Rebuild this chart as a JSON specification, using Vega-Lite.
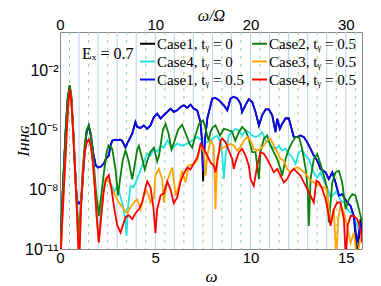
{
"$schema": "https://vega.github.io/schema/vega-lite/v6.json",
"width": 302, "height": 217,
"autosize": "none",
"padding": {"left": 60, "top": 32, "right": 19, "bottom": 37},
"config": {"view": {"stroke": "#8a8a8a", "strokeWidth": 1}, "font": "Liberation Sans"},
"datasets": {
"even": [{"h":2},{"h":4},{"h":6},{"h":8},{"h":10},{"h":12},{"h":14},{"h":16},{"h":18},{"h":20},{"h":22},{"h":24},{"h":26},{"h":28},{"h":30}],
"odd": [{"h":1},{"h":3},{"h":5},{"h":7},{"h":9},{"h":11},{"h":13},{"h":15},{"h":17},{"h":19},{"h":21},{"h":23},{"h":25},{"h":27},{"h":29},{"h":31}],
"curves": [
{"s":"k","w":0.0,"I":3.16e-12},{"s":"k","w":0.1,"I":1e-9},{"s":"k","w":0.2,"I":1e-7},{"s":"k","w":0.3,"I":1e-5},{"s":"k","w":0.4,"I":3.16e-4},{"s":"k","w":0.51,"I":1.58e-3},{"s":"k","w":0.6,"I":3.16e-4},{"s":"k","w":0.7,"I":6.31e-6},{"s":"k","w":0.8,"I":6.31e-8},{"s":"k","w":0.88,"I":3.16e-9},{"s":"k","w":0.95,"I":2e-9},{"s":"k","w":1.05,"I":2e-9},{"s":"k","w":1.12,"I":3.16e-9},{"s":"k","w":1.2,"I":3.98e-8},{"s":"k","w":1.3,"I":1e-6},{"s":"k","w":1.4,"I":7.94e-6},{"s":"k","w":1.51,"I":1.58e-5},{"s":"k","w":1.62,"I":5.01e-6},{"s":"k","w":1.75,"I":6.31e-7},{"s":"k","w":1.88,"I":1.58e-7},{"s":"k","w":2.0,"I":1.26e-7},{"s":"k","w":2.15,"I":1.41e-7},{"s":"k","w":2.3,"I":2e-7},{"s":"k","w":2.42,"I":3.55e-7},{"s":"k","w":2.56,"I":5.01e-7},{"s":"k","w":2.65,"I":1.58e-6},{"s":"k","w":2.74,"I":2.82e-6},{"s":"k","w":2.9,"I":3.16e-6},{"s":"k","w":3.0,"I":3e-6},{"s":"k","w":3.15,"I":3.16e-6},{"s":"k","w":3.26,"I":2.82e-6},{"s":"k","w":3.44,"I":1.26e-6},{"s":"k","w":3.52,"I":2e-6},{"s":"k","w":3.61,"I":2.88e-6},{"s":"k","w":3.79,"I":6.31e-6},{"s":"k","w":3.96,"I":2.45e-5},{"s":"k","w":4.05,"I":1.38e-5},{"s":"k","w":4.23,"I":1.23e-5},{"s":"k","w":4.4,"I":1.66e-5},{"s":"k","w":4.58,"I":1.12e-5},{"s":"k","w":4.75,"I":1.66e-5},{"s":"k","w":4.93,"I":4.37e-5},{"s":"k","w":5.1,"I":6.46e-5},{"s":"k","w":5.28,"I":3.63e-5},{"s":"k","w":5.45,"I":5.37e-5},{"s":"k","w":5.63,"I":7.94e-5},{"s":"k","w":5.8,"I":1.15e-4},{"s":"k","w":5.97,"I":7.94e-5},{"s":"k","w":6.15,"I":9.55e-5},{"s":"k","w":6.33,"I":1.41e-4},{"s":"k","w":6.5,"I":1.7e-4},{"s":"k","w":6.68,"I":1.26e-4},{"s":"k","w":6.85,"I":1.86e-4},{"s":"k","w":7.02,"I":1.15e-4},{"s":"k","w":7.2,"I":9.55e-5},{"s":"k","w":7.37,"I":2.45e-5},{"s":"k","w":7.45,"I":3.16e-6},{"s":"k","w":7.51,"I":2.51e-8},{"s":"k","w":7.6,"I":2.51e-6},{"s":"k","w":7.73,"I":3.63e-5},{"s":"k","w":7.99,"I":3.72e-4},{"s":"k","w":8.16,"I":3.98e-4},{"s":"k","w":8.34,"I":3.09e-4},{"s":"k","w":8.6,"I":1.7e-4},{"s":"k","w":8.78,"I":9.55e-5},{"s":"k","w":8.95,"I":3.72e-4},{"s":"k","w":9.12,"I":4.57e-4},{"s":"k","w":9.3,"I":3.8e-4},{"s":"k","w":9.47,"I":2.09e-4},{"s":"k","w":9.56,"I":7.94e-5},{"s":"k","w":9.74,"I":1.78e-4},{"s":"k","w":9.91,"I":3.47e-4},{"s":"k","w":10.09,"I":2.51e-4},{"s":"k","w":10.26,"I":7.94e-5},{"s":"k","w":10.44,"I":1.66e-5},{"s":"k","w":10.61,"I":5.37e-5},{"s":"k","w":10.79,"I":1.07e-4},{"s":"k","w":10.96,"I":1.07e-4},{"s":"k","w":11.14,"I":5.37e-5},{"s":"k","w":11.31,"I":7.59e-6},{"s":"k","w":11.4,"I":3.55e-5},{"s":"k","w":11.54,"I":1.12e-5},{"s":"k","w":11.66,"I":2e-5},{"s":"k","w":11.84,"I":3.8e-5},{"s":"k","w":12.01,"I":3.8e-5},{"s":"k","w":12.13,"I":1.38e-5},{"s":"k","w":12.27,"I":4.27e-6},{"s":"k","w":12.45,"I":4.27e-6},{"s":"k","w":12.62,"I":5.13e-6},{"s":"k","w":12.8,"I":4.27e-6},{"s":"k","w":12.97,"I":2.4e-6},{"s":"k","w":13.15,"I":1.1e-6},{"s":"k","w":13.32,"I":5.01e-7},{"s":"k","w":13.5,"I":2.82e-7},{"s":"k","w":13.67,"I":1.07e-7},{"s":"k","w":13.94,"I":7.24e-8},{"s":"k","w":14.11,"I":3.31e-8},{"s":"k","w":14.29,"I":7.24e-8},{"s":"k","w":14.46,"I":2.24e-8},{"s":"k","w":14.64,"I":4.79e-9},{"s":"k","w":14.81,"I":5.75e-9},{"s":"k","w":15.07,"I":2.19e-9},{"s":"k","w":15.25,"I":1.48e-9},{"s":"k","w":15.42,"I":4.57e-10},{"s":"k","w":15.6,"I":3.16e-12},{"s":"k","w":15.77,"I":3.16e-10},{"s":"k","w":15.86,"I":4.47e-11},

{"s":"c","w":0.0,"I":3.16e-12},{"s":"c","w":0.1,"I":1e-9},{"s":"c","w":0.2,"I":1e-7},{"s":"c","w":0.3,"I":7.94e-6},{"s":"c","w":0.4,"I":2.51e-4},{"s":"c","w":0.52,"I":1e-3},{"s":"c","w":0.6,"I":2.51e-4},{"s":"c","w":0.7,"I":5.01e-6},{"s":"c","w":0.8,"I":5.01e-8},{"s":"c","w":0.9,"I":5.01e-10},{"s":"c","w":0.98,"I":6.31e-12},{"s":"c","w":1.08,"I":5.01e-10},{"s":"c","w":1.2,"I":6.31e-8},{"s":"c","w":1.3,"I":7.94e-7},{"s":"c","w":1.4,"I":2.51e-6},{"s":"c","w":1.51,"I":3.16e-6},{"s":"c","w":1.62,"I":1.58e-6},{"s":"c","w":1.72,"I":2.51e-7},{"s":"c","w":1.82,"I":1.58e-8},{"s":"c","w":1.92,"I":5.01e-10},{"s":"c","w":2.02,"I":2.51e-11},{"s":"c","w":2.12,"I":5.01e-10},{"s":"c","w":2.25,"I":1e-8},{"s":"c","w":2.4,"I":2.51e-8},{"s":"c","w":2.55,"I":3.16e-8},{"s":"c","w":2.7,"I":1.58e-8},{"s":"c","w":2.85,"I":7.94e-9},{"s":"c","w":3.0,"I":1.51e-8},{"s":"c","w":3.15,"I":5.01e-9},{"s":"c","w":3.3,"I":1.58e-9},{"s":"c","w":3.42,"I":3.16e-10},{"s":"c","w":3.49,"I":4.47e-11},{"s":"c","w":3.56,"I":1e-9},{"s":"c","w":3.7,"I":1.51e-8},{"s":"c","w":3.85,"I":1.26e-8},{"s":"c","w":4.05,"I":3.31e-8},{"s":"c","w":4.31,"I":1.58e-7},{"s":"c","w":4.58,"I":6.31e-7},{"s":"c","w":4.75,"I":5.01e-7},{"s":"c","w":4.93,"I":1.1e-6},{"s":"c","w":5.1,"I":7.94e-7},{"s":"c","w":5.28,"I":1.58e-6},{"s":"c","w":5.45,"I":1.26e-6},{"s":"c","w":5.63,"I":2.88e-6},{"s":"c","w":5.75,"I":2e-6},{"s":"c","w":5.89,"I":1.1e-6},{"s":"c","w":6.15,"I":2e-6},{"s":"c","w":6.41,"I":1.58e-6},{"s":"c","w":6.68,"I":2e-6},{"s":"c","w":6.94,"I":2.88e-6},{"s":"c","w":7.2,"I":4.27e-6},{"s":"c","w":7.46,"I":2.88e-6},{"s":"c","w":7.72,"I":2.4e-6},{"s":"c","w":7.9,"I":2.82e-6},{"s":"c","w":8.07,"I":3.98e-6},{"s":"c","w":8.25,"I":5.01e-6},{"s":"c","w":8.43,"I":2.4e-6},{"s":"c","w":8.52,"I":5.01e-7},{"s":"c","w":8.6,"I":3.31e-8},{"s":"c","w":8.69,"I":5.01e-7},{"s":"c","w":8.86,"I":5.13e-6},{"s":"c","w":9.03,"I":7.59e-6},{"s":"c","w":9.21,"I":1.12e-5},{"s":"c","w":9.38,"I":9.33e-6},{"s":"c","w":9.56,"I":5.13e-6},{"s":"c","w":9.74,"I":9.33e-6},{"s":"c","w":9.91,"I":7.59e-6},{"s":"c","w":10.09,"I":5.13e-6},{"s":"c","w":10.26,"I":4.27e-6},{"s":"c","w":10.44,"I":5.13e-6},{"s":"c","w":10.61,"I":7.59e-6},{"s":"c","w":10.79,"I":2.88e-6},{"s":"c","w":10.96,"I":2.4e-6},{"s":"c","w":11.14,"I":1.32e-6},{"s":"c","w":11.31,"I":1.1e-6},{"s":"c","w":11.49,"I":1.58e-6},{"s":"c","w":11.66,"I":8.91e-7},{"s":"c","w":11.84,"I":1.1e-6},{"s":"c","w":12.01,"I":6.03e-7},{"s":"c","w":12.19,"I":4.17e-7},{"s":"c","w":12.36,"I":1.91e-7},{"s":"c","w":12.54,"I":7.41e-7},{"s":"c","w":12.71,"I":8.91e-7},{"s":"c","w":12.89,"I":5.01e-7},{"s":"c","w":13.06,"I":3.39e-7},{"s":"c","w":13.24,"I":1.07e-7},{"s":"c","w":13.41,"I":4.9e-8},{"s":"c","w":13.5,"I":3.98e-8},{"s":"c","w":13.67,"I":7.24e-8},{"s":"c","w":13.85,"I":2.75e-8},{"s":"c","w":14.02,"I":1.26e-8},{"s":"c","w":14.2,"I":3.98e-9},{"s":"c","w":14.37,"I":5.75e-9},{"s":"c","w":14.55,"I":8.51e-9},{"s":"c","w":14.72,"I":2.69e-9},{"s":"c","w":14.9,"I":2.19e-9},{"s":"c","w":15.07,"I":1e-9},{"s":"c","w":15.25,"I":6.76e-10},{"s":"c","w":15.42,"I":4.57e-10},{"s":"c","w":15.6,"I":1.45e-10},{"s":"c","w":15.77,"I":6.61e-11},

{"s":"b","w":0.0,"I":3.16e-12},{"s":"b","w":0.1,"I":1e-9},{"s":"b","w":0.2,"I":1e-7},{"s":"b","w":0.3,"I":1e-5},{"s":"b","w":0.4,"I":3.16e-4},{"s":"b","w":0.51,"I":1.58e-3},{"s":"b","w":0.6,"I":3.16e-4},{"s":"b","w":0.7,"I":6.31e-6},{"s":"b","w":0.8,"I":6.31e-8},{"s":"b","w":0.88,"I":3.16e-9},{"s":"b","w":0.95,"I":2e-9},{"s":"b","w":1.05,"I":2e-9},{"s":"b","w":1.12,"I":3.16e-9},{"s":"b","w":1.2,"I":3.98e-8},{"s":"b","w":1.3,"I":1e-6},{"s":"b","w":1.4,"I":7.94e-6},{"s":"b","w":1.51,"I":1.58e-5},{"s":"b","w":1.62,"I":5.01e-6},{"s":"b","w":1.75,"I":6.31e-7},{"s":"b","w":1.88,"I":1.58e-7},{"s":"b","w":2.0,"I":1.26e-7},{"s":"b","w":2.15,"I":1.41e-7},{"s":"b","w":2.3,"I":2e-7},{"s":"b","w":2.42,"I":3.55e-7},{"s":"b","w":2.56,"I":5.01e-7},{"s":"b","w":2.65,"I":1.58e-6},{"s":"b","w":2.74,"I":2.82e-6},{"s":"b","w":2.9,"I":3.16e-6},{"s":"b","w":3.0,"I":3e-6},{"s":"b","w":3.15,"I":3.16e-6},{"s":"b","w":3.26,"I":2.82e-6},{"s":"b","w":3.44,"I":1.26e-6},{"s":"b","w":3.52,"I":2e-6},{"s":"b","w":3.61,"I":2.88e-6},{"s":"b","w":3.79,"I":6.31e-6},{"s":"b","w":3.96,"I":2.45e-5},{"s":"b","w":4.05,"I":1.38e-5},{"s":"b","w":4.23,"I":1.23e-5},{"s":"b","w":4.4,"I":1.66e-5},{"s":"b","w":4.58,"I":1.12e-5},{"s":"b","w":4.75,"I":1.66e-5},{"s":"b","w":4.93,"I":4.37e-5},{"s":"b","w":5.1,"I":6.46e-5},{"s":"b","w":5.28,"I":3.63e-5},{"s":"b","w":5.45,"I":5.37e-5},{"s":"b","w":5.63,"I":7.94e-5},{"s":"b","w":5.8,"I":1.15e-4},{"s":"b","w":5.97,"I":7.94e-5},{"s":"b","w":6.15,"I":9.55e-5},{"s":"b","w":6.33,"I":1.41e-4},{"s":"b","w":6.5,"I":1.7e-4},{"s":"b","w":6.68,"I":1.26e-4},{"s":"b","w":6.85,"I":1.86e-4},{"s":"b","w":7.02,"I":1.15e-4},{"s":"b","w":7.2,"I":9.55e-5},{"s":"b","w":7.37,"I":2.45e-5},{"s":"b","w":7.45,"I":3.16e-6},{"s":"b","w":7.51,"I":7.94e-8},{"s":"b","w":7.6,"I":2.51e-6},{"s":"b","w":7.73,"I":3.63e-5},{"s":"b","w":7.99,"I":3.72e-4},{"s":"b","w":8.16,"I":3.98e-4},{"s":"b","w":8.34,"I":3.09e-4},{"s":"b","w":8.6,"I":1.7e-4},{"s":"b","w":8.78,"I":9.55e-5},{"s":"b","w":8.95,"I":3.72e-4},{"s":"b","w":9.12,"I":4.57e-4},{"s":"b","w":9.3,"I":3.8e-4},{"s":"b","w":9.47,"I":2.09e-4},{"s":"b","w":9.56,"I":7.94e-5},{"s":"b","w":9.74,"I":1.78e-4},{"s":"b","w":9.91,"I":3.47e-4},{"s":"b","w":10.09,"I":2.51e-4},{"s":"b","w":10.26,"I":7.94e-5},{"s":"b","w":10.44,"I":1.66e-5},{"s":"b","w":10.61,"I":5.37e-5},{"s":"b","w":10.79,"I":1.07e-4},{"s":"b","w":10.96,"I":1.07e-4},{"s":"b","w":11.14,"I":5.37e-5},{"s":"b","w":11.31,"I":7.59e-6},{"s":"b","w":11.4,"I":3.55e-5},{"s":"b","w":11.54,"I":1.12e-5},{"s":"b","w":11.66,"I":2e-5},{"s":"b","w":11.84,"I":3.63e-5},{"s":"b","w":12.01,"I":3.63e-5},{"s":"b","w":12.13,"I":1.38e-5},{"s":"b","w":12.27,"I":4.27e-6},{"s":"b","w":12.45,"I":4.27e-6},{"s":"b","w":12.62,"I":5.13e-6},{"s":"b","w":12.8,"I":4.27e-6},{"s":"b","w":12.97,"I":2.4e-6},{"s":"b","w":13.15,"I":1.1e-6},{"s":"b","w":13.32,"I":5.01e-7},{"s":"b","w":13.5,"I":2.82e-7},{"s":"b","w":13.67,"I":1.07e-7},{"s":"b","w":13.94,"I":7.24e-8},{"s":"b","w":14.11,"I":3.31e-8},{"s":"b","w":14.29,"I":7.24e-8},{"s":"b","w":14.46,"I":2.24e-8},{"s":"b","w":14.64,"I":4.79e-9},{"s":"b","w":14.81,"I":5.75e-9},{"s":"b","w":15.07,"I":2.19e-9},{"s":"b","w":15.25,"I":1.48e-9},{"s":"b","w":15.42,"I":4.57e-10},{"s":"b","w":15.6,"I":2.04e-11},{"s":"b","w":15.77,"I":2.14e-10},{"s":"b","w":15.86,"I":4.47e-11},

{"s":"g","w":0.0,"I":3.16e-12},{"s":"g","w":0.1,"I":1e-9},{"s":"g","w":0.2,"I":1e-7},{"s":"g","w":0.3,"I":1e-5},{"s":"g","w":0.4,"I":3.98e-4},{"s":"g","w":0.51,"I":1.74e-3},{"s":"g","w":0.6,"I":5.01e-4},{"s":"g","w":0.7,"I":1e-5},{"s":"g","w":0.8,"I":1e-7},{"s":"g","w":0.9,"I":1e-9},{"s":"g","w":1.0,"I":4.47e-11},{"s":"g","w":1.1,"I":2.51e-9},{"s":"g","w":1.2,"I":1.26e-7},{"s":"g","w":1.3,"I":2e-6},{"s":"g","w":1.4,"I":1e-5},{"s":"g","w":1.51,"I":1.66e-5},{"s":"g","w":1.62,"I":6.31e-6},{"s":"g","w":1.75,"I":3.98e-7},{"s":"g","w":1.88,"I":1e-8},{"s":"g","w":2.04,"I":4.57e-10},{"s":"g","w":2.15,"I":3.98e-9},{"s":"g","w":2.3,"I":6.31e-8},{"s":"g","w":2.45,"I":7.94e-7},{"s":"g","w":2.56,"I":1.62e-6},{"s":"g","w":2.74,"I":1.1e-6},{"s":"g","w":2.91,"I":1.07e-7},{"s":"g","w":3.04,"I":5.01e-9},{"s":"g","w":3.18,"I":5.01e-8},{"s":"g","w":3.3,"I":3.16e-7},{"s":"g","w":3.44,"I":9.12e-7},{"s":"g","w":3.61,"I":2.51e-7},{"s":"g","w":3.79,"I":3.16e-8},{"s":"g","w":3.9,"I":1.26e-7},{"s":"g","w":4.05,"I":1e-6},{"s":"g","w":4.14,"I":1.58e-6},{"s":"g","w":4.3,"I":3.98e-7},{"s":"g","w":4.45,"I":1e-7},{"s":"g","w":4.6,"I":3.16e-7},{"s":"g","w":4.75,"I":7.94e-7},{"s":"g","w":4.93,"I":1.26e-6},{"s":"g","w":5.1,"I":2.51e-7},{"s":"g","w":5.2,"I":5.01e-7},{"s":"g","w":5.4,"I":1e-5},{"s":"g","w":5.54,"I":2e-5},{"s":"g","w":5.7,"I":6.31e-6},{"s":"g","w":5.85,"I":1e-6},{"s":"g","w":6.0,"I":2.51e-6},{"s":"g","w":6.2,"I":1e-5},{"s":"g","w":6.41,"I":1.78e-5},{"s":"g","w":6.6,"I":6.31e-6},{"s":"g","w":6.8,"I":2e-6},{"s":"g","w":6.94,"I":1.26e-6},{"s":"g","w":7.1,"I":5.01e-6},{"s":"g","w":7.3,"I":2e-5},{"s":"g","w":7.51,"I":2.95e-5},{"s":"g","w":7.6,"I":1.58e-5},{"s":"g","w":7.73,"I":5.01e-6},{"s":"g","w":7.8,"I":2.82e-6},{"s":"g","w":7.9,"I":7.94e-6},{"s":"g","w":8.0,"I":1.26e-5},{"s":"g","w":8.16,"I":1.66e-5},{"s":"g","w":8.4,"I":5.01e-6},{"s":"g","w":8.6,"I":1.12e-5},{"s":"g","w":8.78,"I":1e-5},{"s":"g","w":9.03,"I":7.94e-6},{"s":"g","w":9.2,"I":2.82e-6},{"s":"g","w":9.4,"I":7.94e-6},{"s":"g","w":9.56,"I":1.38e-5},{"s":"g","w":9.74,"I":8.91e-6},{"s":"g","w":9.91,"I":3.55e-6},{"s":"g","w":10.09,"I":7.41e-7},{"s":"g","w":10.26,"I":7.41e-7},{"s":"g","w":10.44,"I":3.31e-8},{"s":"g","w":10.52,"I":7.41e-7},{"s":"g","w":10.7,"I":3.55e-6},{"s":"g","w":10.87,"I":5.13e-6},{"s":"g","w":11.05,"I":1.58e-6},{"s":"g","w":11.22,"I":7.41e-7},{"s":"g","w":11.4,"I":3.39e-7},{"s":"g","w":11.57,"I":1.07e-7},{"s":"g","w":11.66,"I":4.9e-8},{"s":"g","w":11.84,"I":3.39e-7},{"s":"g","w":12.01,"I":1.1e-6},{"s":"g","w":12.19,"I":2.4e-6},{"s":"g","w":12.36,"I":4.27e-6},{"s":"g","w":12.54,"I":4.27e-6},{"s":"g","w":12.71,"I":1.1e-6},{"s":"g","w":12.89,"I":1.07e-7},{"s":"g","w":13.0,"I":1.05e-8},{"s":"g","w":13.06,"I":1.45e-10},{"s":"g","w":13.15,"I":3.31e-8},{"s":"g","w":13.32,"I":3.39e-7},{"s":"g","w":13.5,"I":6.03e-7},{"s":"g","w":13.67,"I":1.91e-7},{"s":"g","w":13.85,"I":4.9e-8},{"s":"g","w":14.02,"I":1.05e-8},{"s":"g","w":14.11,"I":2.14e-10},{"s":"g","w":14.29,"I":2.24e-8},{"s":"g","w":14.46,"I":7.24e-8},{"s":"g","w":14.64,"I":8.71e-8},{"s":"g","w":14.81,"I":2.24e-8},{"s":"g","w":14.99,"I":1e-9},{"s":"g","w":15.16,"I":3.16e-9},{"s":"g","w":15.34,"I":5.75e-9},{"s":"g","w":15.51,"I":4.79e-9},{"s":"g","w":15.69,"I":1e-9},{"s":"g","w":15.86,"I":2.14e-10},

{"s":"o","w":0.0,"I":3.16e-12},{"s":"o","w":0.05,"I":1e-11},{"s":"o","w":0.15,"I":1e-9},{"s":"o","w":0.25,"I":7.94e-8},{"s":"o","w":0.35,"I":6.31e-6},{"s":"o","w":0.43,"I":2e-4},{"s":"o","w":0.52,"I":1.1e-3},{"s":"o","w":0.6,"I":2.51e-4},{"s":"o","w":0.7,"I":5.01e-6},{"s":"o","w":0.8,"I":5.01e-8},{"s":"o","w":0.9,"I":5.01e-10},{"s":"o","w":0.97,"I":1e-11},{"s":"o","w":1.0,"I":3.16e-12},{"s":"o","w":1.03,"I":1e-11},{"s":"o","w":1.1,"I":1e-9},{"s":"o","w":1.2,"I":6.31e-8},{"s":"o","w":1.3,"I":7.94e-7},{"s":"o","w":1.4,"I":2.24e-6},{"s":"o","w":1.51,"I":3.24e-6},{"s":"o","w":1.62,"I":1.58e-6},{"s":"o","w":1.72,"I":2.51e-7},{"s":"o","w":1.82,"I":1.58e-8},{"s":"o","w":1.92,"I":5.01e-10},{"s":"o","w":2.04,"I":2.14e-11},{"s":"o","w":2.15,"I":3.16e-10},{"s":"o","w":2.28,"I":6.31e-9},{"s":"o","w":2.4,"I":3.16e-8},{"s":"o","w":2.56,"I":2.51e-8},{"s":"o","w":2.74,"I":1e-8},{"s":"o","w":3.09,"I":2.19e-9},{"s":"o","w":3.35,"I":1e-9},{"s":"o","w":3.53,"I":6.31e-10},{"s":"o","w":3.7,"I":1.26e-9},{"s":"o","w":3.88,"I":2.19e-9},{"s":"o","w":4.05,"I":3.16e-9},{"s":"o","w":4.23,"I":1e-9},{"s":"o","w":4.31,"I":2.19e-9},{"s":"o","w":4.49,"I":1.05e-8},{"s":"o","w":4.66,"I":4.79e-9},{"s":"o","w":4.75,"I":2.19e-9},{"s":"o","w":4.93,"I":3.98e-9},{"s":"o","w":5.01,"I":5.01e-8},{"s":"o","w":5.19,"I":1.07e-7},{"s":"o","w":5.36,"I":3.31e-8},{"s":"o","w":5.45,"I":2.19e-9},{"s":"o","w":5.63,"I":2.75e-8},{"s":"o","w":5.89,"I":1.26e-7},{"s":"o","w":6.07,"I":4.79e-9},{"s":"o","w":6.24,"I":1.51e-8},{"s":"o","w":6.41,"I":8.71e-8},{"s":"o","w":6.59,"I":2.24e-8},{"s":"o","w":6.76,"I":1.58e-7},{"s":"o","w":7.02,"I":1.91e-7},{"s":"o","w":7.2,"I":2.82e-7},{"s":"o","w":7.38,"I":1.62e-6},{"s":"o","w":7.55,"I":7.41e-7},{"s":"o","w":7.64,"I":4.9e-8},{"s":"o","w":7.73,"I":5.01e-7},{"s":"o","w":7.9,"I":2.88e-6},{"s":"o","w":8.07,"I":1.62e-6},{"s":"o","w":8.16,"I":1e-9},{"s":"o","w":8.25,"I":3.39e-7},{"s":"o","w":8.43,"I":1.1e-6},{"s":"o","w":8.6,"I":1.32e-6},{"s":"o","w":8.78,"I":1.62e-6},{"s":"o","w":8.95,"I":1.95e-6},{"s":"o","w":9.12,"I":1.62e-6},{"s":"o","w":9.3,"I":8.91e-7},{"s":"o","w":9.47,"I":1.32e-6},{"s":"o","w":9.65,"I":2.88e-6},{"s":"o","w":9.82,"I":4.27e-6},{"s":"o","w":10.0,"I":2.88e-6},{"s":"o","w":10.17,"I":1.1e-6},{"s":"o","w":10.35,"I":8.91e-7},{"s":"o","w":10.52,"I":1.1e-6},{"s":"o","w":10.7,"I":1.62e-6},{"s":"o","w":10.87,"I":2.88e-6},{"s":"o","w":11.05,"I":3.55e-6},{"s":"o","w":11.22,"I":1.62e-6},{"s":"o","w":11.4,"I":7.41e-7},{"s":"o","w":11.57,"I":3.39e-7},{"s":"o","w":11.75,"I":2.82e-7},{"s":"o","w":11.92,"I":1.07e-7},{"s":"o","w":12.1,"I":7.24e-8},{"s":"o","w":12.27,"I":1.07e-7},{"s":"o","w":12.45,"I":1.29e-7},{"s":"o","w":12.62,"I":1.07e-7},{"s":"o","w":12.8,"I":7.24e-8},{"s":"o","w":12.97,"I":4.9e-8},{"s":"o","w":13.15,"I":2.75e-8},{"s":"o","w":13.32,"I":2.24e-8},{"s":"o","w":13.5,"I":1.86e-8},{"s":"o","w":13.67,"I":1.51e-8},{"s":"o","w":13.85,"I":1.26e-8},{"s":"o","w":13.99,"I":1.05e-8},{"s":"o","w":14.11,"I":1e-9},{"s":"o","w":14.2,"I":2.14e-10},{"s":"o","w":14.37,"I":1e-9},{"s":"o","w":14.5,"I":3.16e-12},{"s":"o","w":14.6,"I":3.16e-10},{"s":"o","w":14.72,"I":1.48e-9},{"s":"o","w":14.9,"I":6.76e-10},{"s":"o","w":15.07,"I":1.45e-10},{"s":"o","w":15.25,"I":2.04e-11},{"s":"o","w":15.42,"I":6.61e-11},{"s":"o","w":15.6,"I":3.16e-12},{"s":"o","w":15.75,"I":3.16e-11},

{"s":"r","w":0.0,"I":3.16e-12},{"s":"r","w":0.05,"I":1e-11},{"s":"r","w":0.15,"I":1e-9},{"s":"r","w":0.25,"I":7.94e-8},{"s":"r","w":0.35,"I":6.31e-6},{"s":"r","w":0.43,"I":2e-4},{"s":"r","w":0.52,"I":1.1e-3},{"s":"r","w":0.6,"I":2.51e-4},{"s":"r","w":0.7,"I":5.01e-6},{"s":"r","w":0.8,"I":5.01e-8},{"s":"r","w":0.9,"I":5.01e-10},{"s":"r","w":0.97,"I":1e-11},{"s":"r","w":1.0,"I":3.16e-12},{"s":"r","w":1.03,"I":1e-11},{"s":"r","w":1.1,"I":1e-9},{"s":"r","w":1.2,"I":6.31e-8},{"s":"r","w":1.3,"I":7.94e-7},{"s":"r","w":1.4,"I":2.24e-6},{"s":"r","w":1.51,"I":3.24e-6},{"s":"r","w":1.62,"I":1.58e-6},{"s":"r","w":1.72,"I":2.51e-7},{"s":"r","w":1.82,"I":1.58e-8},{"s":"r","w":1.92,"I":5.01e-10},{"s":"r","w":2.04,"I":2.14e-11},{"s":"r","w":2.15,"I":3.16e-10},{"s":"r","w":2.28,"I":6.31e-9},{"s":"r","w":2.4,"I":3.16e-8},{"s":"r","w":2.56,"I":5.25e-8},{"s":"r","w":2.69,"I":1.26e-8},{"s":"r","w":2.84,"I":1.26e-9},{"s":"r","w":3.0,"I":1.58e-10},{"s":"r","w":3.18,"I":6.61e-11},{"s":"r","w":3.3,"I":1.58e-10},{"s":"r","w":3.44,"I":3.98e-10},{"s":"r","w":3.61,"I":5.01e-10},{"s":"r","w":3.79,"I":3.16e-10},{"s":"r","w":3.96,"I":6.31e-10},{"s":"r","w":4.14,"I":1e-9},{"s":"r","w":4.31,"I":2.19e-9},{"s":"r","w":4.49,"I":1.26e-8},{"s":"r","w":4.58,"I":2.51e-8},{"s":"r","w":4.75,"I":1.26e-8},{"s":"r","w":4.9,"I":1.26e-9},{"s":"r","w":5.01,"I":6.31e-11},{"s":"r","w":5.1,"I":1e-9},{"s":"r","w":5.28,"I":5.01e-9},{"s":"r","w":5.45,"I":6.31e-9},{"s":"r","w":5.63,"I":2.51e-8},{"s":"r","w":5.8,"I":1e-8},{"s":"r","w":5.97,"I":2e-9},{"s":"r","w":6.15,"I":3.98e-9},{"s":"r","w":6.33,"I":2.51e-8},{"s":"r","w":6.5,"I":6.31e-8},{"s":"r","w":6.68,"I":1.26e-7},{"s":"r","w":6.85,"I":1e-7},{"s":"r","w":7.02,"I":2e-7},{"s":"r","w":7.2,"I":3.98e-7},{"s":"r","w":7.38,"I":1.95e-6},{"s":"r","w":7.55,"I":1.1e-6},{"s":"r","w":7.73,"I":5.01e-7},{"s":"r","w":7.9,"I":2.29e-7},{"s":"r","w":8.07,"I":1.58e-7},{"s":"r","w":8.16,"I":7.24e-8},{"s":"r","w":8.34,"I":7.41e-7},{"s":"r","w":8.43,"I":2.88e-6},{"s":"r","w":8.51,"I":3.55e-6},{"s":"r","w":8.69,"I":2.4e-6},{"s":"r","w":8.86,"I":8.91e-7},{"s":"r","w":9.04,"I":3.39e-7},{"s":"r","w":9.12,"I":1.07e-7},{"s":"r","w":9.21,"I":2.29e-7},{"s":"r","w":9.39,"I":7.41e-7},{"s":"r","w":9.56,"I":1.1e-6},{"s":"r","w":9.74,"I":5.01e-7},{"s":"r","w":9.91,"I":1.58e-7},{"s":"r","w":10.0,"I":3.31e-8},{"s":"r","w":10.17,"I":1.51e-8},{"s":"r","w":10.35,"I":1.58e-7},{"s":"r","w":10.52,"I":7.41e-7},{"s":"r","w":10.7,"I":6.17e-7},{"s":"r","w":10.87,"I":3.39e-7},{"s":"r","w":11.05,"I":1.58e-7},{"s":"r","w":11.22,"I":7.24e-8},{"s":"r","w":11.4,"I":1.07e-7},{"s":"r","w":11.57,"I":4.9e-8},{"s":"r","w":11.75,"I":2.24e-8},{"s":"r","w":11.92,"I":3.31e-8},{"s":"r","w":12.1,"I":7.24e-8},{"s":"r","w":12.27,"I":1.07e-7},{"s":"r","w":12.45,"I":7.24e-8},{"s":"r","w":12.62,"I":4.9e-8},{"s":"r","w":12.8,"I":2.24e-8},{"s":"r","w":12.97,"I":1.05e-8},{"s":"r","w":13.15,"I":4.79e-9},{"s":"r","w":13.32,"I":2.19e-9},{"s":"r","w":13.46,"I":2.75e-8},{"s":"r","w":13.59,"I":2.24e-8},{"s":"r","w":13.76,"I":1.05e-8},{"s":"r","w":13.94,"I":3.24e-9},{"s":"r","w":14.11,"I":4.57e-10},{"s":"r","w":14.2,"I":1.45e-10},{"s":"r","w":14.37,"I":1e-9},{"s":"r","w":14.55,"I":2.19e-9},{"s":"r","w":14.72,"I":2.19e-9},{"s":"r","w":14.9,"I":3.16e-10},{"s":"r","w":15.0,"I":3.16e-12},{"s":"r","w":15.1,"I":1.58e-10},{"s":"r","w":15.25,"I":4.57e-10},{"s":"r","w":15.42,"I":4.57e-10},{"s":"r","w":15.6,"I":3.16e-10},{"s":"r","w":15.77,"I":1e-10},{"s":"r","w":15.86,"I":2.04e-11}
]
},
"layer": [
 {"layer": [
   {"data": {"name": "odd"}, "mark": {"type": "rule", "color": "#96d496", "strokeWidth": 1, "strokeDash": [3, 5]},
    "encoding": {"x": {"field": "h", "type": "quantitative", "scale": {"domain": [0, 31.7], "nice": false, "zero": false},
      "axis": {"orient": "top", "values": [0, 10, 20, 30], "format": "d", "title": "ω/Ω", "titleFont": "Liberation Serif", "titleFontStyle": "italic", "titleFontWeight": "normal", "titleFontSize": 16, "titleColor": "#000", "titlePadding": -6, "labelFont": "Liberation Sans", "labelFontSize": 15, "labelColor": "#000", "labelPadding": 0, "ticks": false, "domain": false, "grid": false, "labelFlush": false, "labelOverlap": false}}}},
   {"data": {"name": "even"}, "mark": {"type": "rule", "color": "#b9d2ea", "strokeWidth": 1},
    "encoding": {"x": {"field": "h", "type": "quantitative"}}}
 ]},
 {"data": {"name": "curves"},
  "encoding": {
    "x": {"field": "w", "type": "quantitative", "scale": {"domain": [0, 15.85], "nice": false, "zero": false},
      "axis": {"orient": "bottom", "values": [0, 5, 10, 15], "format": "d", "title": "ω", "titleFont": "Liberation Serif", "titleFontStyle": "italic", "titleFontWeight": "normal", "titleFontSize": 17, "titleColor": "#000", "titlePadding": 3, "labelFont": "Liberation Sans", "labelFontSize": 15, "labelColor": "#000", "labelPadding": 1, "ticks": false, "domain": false, "grid": false, "labelFlush": false, "labelOverlap": false}},
    "y": {"field": "I", "type": "quantitative", "scale": {"type": "log", "domain": [1e-11, 0.83], "nice": false},
      "axis": {"values": [1e-11, 1e-8, 1e-5, 1e-2], "labelExpr": "datum.value < 1e-9 ? '10⁻¹¹' : datum.value < 1e-6 ? '10⁻⁸' : datum.value < 1e-3 ? '10⁻⁵' : '10⁻²'", "title": "Iʜʜɢ", "titleFont": "Liberation Serif", "titleFontStyle": "italic", "titleFontWeight": "normal", "titleFontSize": 17, "titleColor": "#000", "titlePadding": -8, "labelFont": "Liberation Sans", "labelFontSize": 16, "labelColor": "#000", "labelPadding": 2, "ticks": false, "domain": false, "grid": false, "labelFlush": false, "labelOverlap": false}},
    "color": {"field": "s", "type": "nominal",
      "scale": {"domain": ["k", "c", "b", "g", "o", "r"], "range": ["#000000", "#22e2e2", "#0a0af0", "#0b800b", "#ffa500", "#ff0000"]},
      "legend": {"orient": "none", "legendX": 22, "legendY": 3, "columns": 2, "columnPadding": 3, "rowPadding": 1, "padding": 0,
        "symbolType": "stroke", "symbolSize": 225, "symbolStrokeWidth": 2, "symbolOffset": 0, "labelOffset": 1,
        "labelFont": "Liberation Serif", "labelFontSize": 15, "labelColor": "#000", "labelLimit": 200,
        "labelExpr": "datum.label == 'k' ? 'Case1, tᵧ = 0' : datum.label == 'g' ? 'Case2, tᵧ = 0.5' : datum.label == 'c' ? 'Case4, tᵧ = 0' : datum.label == 'o' ? 'Case3, tᵧ = 0.5' : datum.label == 'b' ? 'Case1, tᵧ = 0.5' : 'Case4, tᵧ = 0.5'",
        "title": "Eₓ = 0.7", "titleOrient": "left", "titleAnchor": "start", "titleBaseline": "line-top", "titleLineHeight": 38, "titleFont": "Liberation Serif", "titleFontSize": 16, "titleFontWeight": "normal", "titleColor": "#000", "titlePadding": 5}}
  },
  "layer": [
    {"transform": [{"filter": "datum.s == 'k'"}], "mark": {"type": "line", "strokeWidth": 1.8, "clip": true}},
    {"transform": [{"filter": "datum.s == 'c'"}], "mark": {"type": "line", "strokeWidth": 1.8, "clip": true}},
    {"transform": [{"filter": "datum.s == 'b'"}], "mark": {"type": "line", "strokeWidth": 1.8, "clip": true}},
    {"transform": [{"filter": "datum.s == 'g'"}], "mark": {"type": "line", "strokeWidth": 1.8, "clip": true}},
    {"transform": [{"filter": "datum.s == 'o'"}], "mark": {"type": "line", "strokeWidth": 1.8, "clip": true}},
    {"transform": [{"filter": "datum.s == 'r'"}], "mark": {"type": "line", "strokeWidth": 1.8, "clip": true}}
  ]
 }
],
"resolve": {"scale": {"x": "independent"}, "axis": {"x": "independent"}}
}
